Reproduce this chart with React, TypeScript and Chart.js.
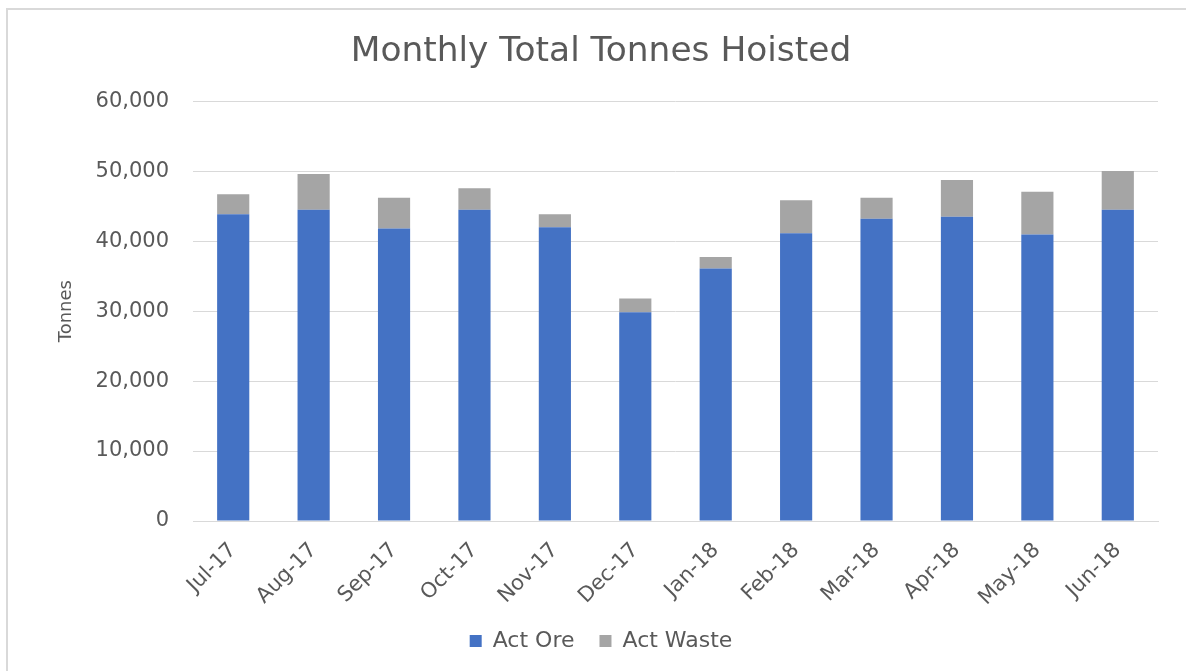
import React, { useEffect, useRef } from "react";
import { Chart, registerables } from "chart.js";

Chart.register(...registerables);

const categories = ["Jul-17", "Aug-17", "Sep-17", "Oct-17", "Nov-17", "Dec-17", "Jan-18", "Feb-18", "Mar-18", "Apr-18", "May-18", "Jun-18"];
const actOre = [43850, 44500, 41800, 44500, 42000, 29850, 36100, 41150, 43200, 43500, 40950, 44500];
const actWaste = [2850, 5100, 4400, 3050, 1850, 1950, 1650, 4700, 3000, 5250, 6100, 5550];
const yTicks = [0, 10000, 20000, 30000, 40000, 50000, 60000];

const FONT = "'DejaVu Sans', sans-serif";
const TEXT = "#595959";

export default function App() {
  const ref = useRef<HTMLCanvasElement | null>(null);
  useEffect(() => {
    if (!ref.current) return;
    const chart = new Chart(ref.current, {
      type: "bar",
      data: {
        labels: categories,
        datasets: [
          { label: "Act Ore", data: actOre, backgroundColor: "#4472C4", categoryPercentage: 1, barPercentage: 0.4 },
          { label: "Act Waste", data: actWaste, backgroundColor: "#A5A5A5", categoryPercentage: 1, barPercentage: 0.4 },
        ],
      },
      options: {
        responsive: false,
        animation: false,
        devicePixelRatio: 1,
        layout: { padding: { left: 16, right: 0, top: 10, bottom: 9 } },
        plugins: {
          title: {
            display: true,
            text: "Monthly Total Tonnes Hoisted",
            color: TEXT,
            font: { family: FONT, size: 34.4, weight: "normal" },
            padding: { top: 21, bottom: 29 },
          },
          legend: {
            position: "bottom",
            labels: {
              color: TEXT,
              font: { family: FONT, size: 22 },
              boxWidth: 12,
              boxHeight: 12,
              padding: 25,
            },
          },
          tooltip: { enabled: false },
        },
        scales: {
          x: {
            stacked: true,
            grid: { display: false },
            border: { display: true, color: "#D9D9D9", width: 1 },
            ticks: { color: TEXT, font: { family: FONT, size: 21 }, minRotation: 45, maxRotation: 45, padding: 9, autoSkip: false },
            afterFit: (s: any) => { s.height = 84; },
          },
          y: {
            stacked: true,
            min: 0,
            max: 60000,
            afterBuildTicks: (s: any) => { s.ticks = yTicks.map((v) => ({ value: v })); },
            grid: { color: "#D9D9D9", drawTicks: false },
            border: { display: false },
            ticks: {
              color: TEXT,
              font: { family: FONT, size: 21 },
              padding: 24,
              callback: (v: any) => Number(v).toLocaleString("en-US"),
            },
            title: {
              display: true,
              text: "Tonnes",
              color: TEXT,
              font: { family: FONT, size: 18 },
              padding: { top: 40, bottom: 0 },
            },
            afterFit: (s: any) => { s.width = 177; },
          },
          yRight: {
            position: "right",
            display: true,
            min: 0,
            max: 1,
            grid: { display: false, drawTicks: false },
            border: { display: false },
            ticks: { display: false },
            afterFit: (s: any) => { s.width = 28; },
          },
        },
      },
    });
    return () => chart.destroy();
  }, []);

  return (
    <div style={{ position: "fixed", left: 0, top: 0, width: 1186, height: 671, background: "#fff", overflow: "hidden" }}>
      <div style={{ position: "absolute", left: 6, top: 8, width: 1200, height: 700, borderTop: "2px solid #D9D9D9", borderLeft: "2px solid #D9D9D9" }} />
      <canvas ref={ref} width={1186} height={671} style={{ position: "absolute", left: 0, top: 0 }} />
    </div>
  );
}
